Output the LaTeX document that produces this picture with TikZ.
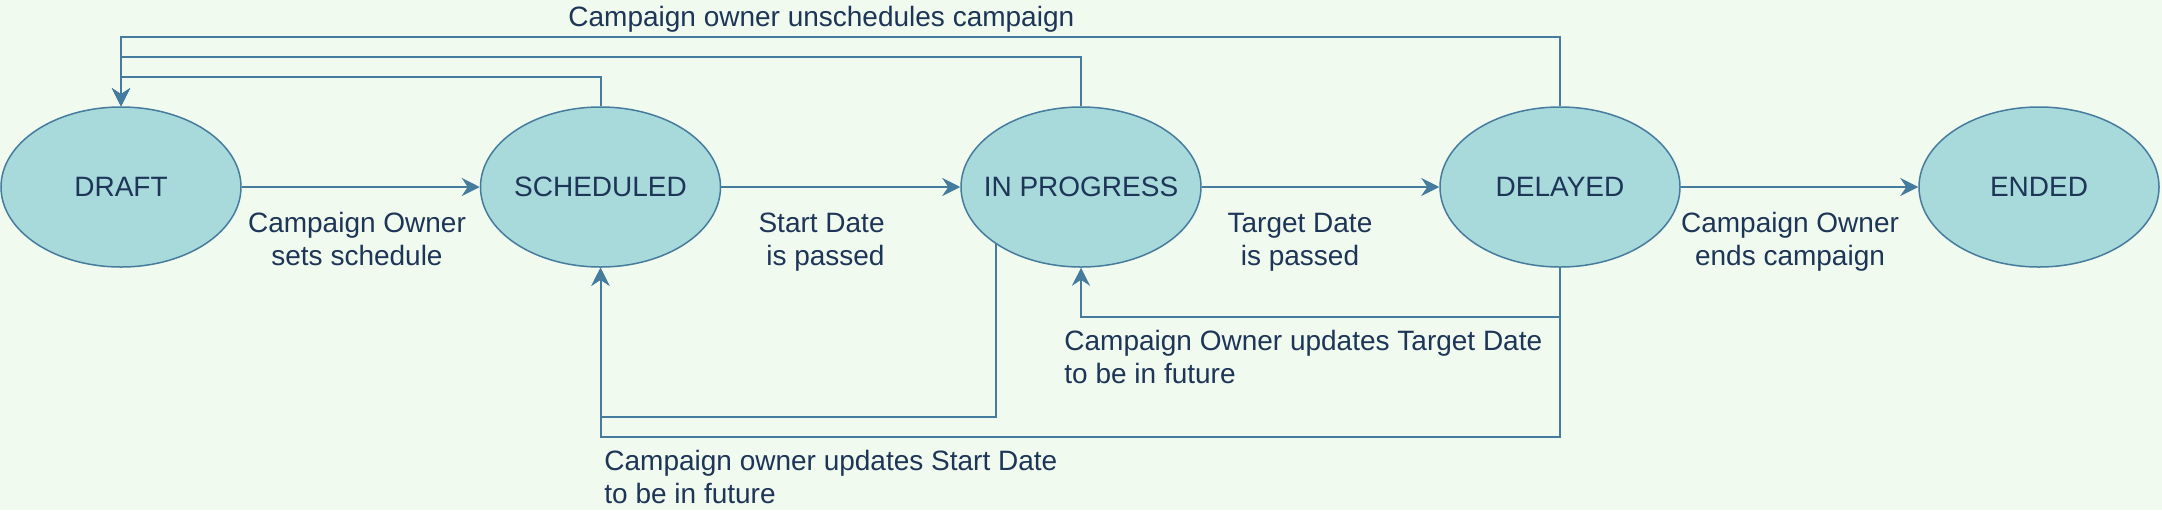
\documentclass[tikz,border=0pt]{standalone}
\usepackage{fontspec}
\setmainfont{Liberation Sans}
\usetikzlibrary{shapes.geometric,arrows.meta}
\definecolor{bgc}{HTML}{F1FAEE}
\definecolor{fillc}{HTML}{A8DADC}
\definecolor{strokec}{HTML}{457B9D}
\definecolor{textc}{HTML}{1D3557}
\newcommand\firstln{\rule{0pt}{12pt}}
\newcommand\stlbl[1]{\makebox[0pt]{#1}}
\tikzset{
  state/.style={ellipse, draw=strokec, fill=fillc, line width=0.75pt, minimum width=120pt, minimum height=80pt, inner sep=0pt, text=textc, font=\fontsize{14}{16.5}\selectfont},
  conn/.style={draw=strokec, line width=1pt},
  arr/.style={conn, -{Stealth[length=9pt,width=9pt,inset=3pt]}},
  lbl/.style={text=textc, font=\fontsize{14}{16.5}\selectfont, inner sep=0pt}
}
\begin{document}
\begin{tikzpicture}[x=0.5pt,y=-0.5pt]
\fill[bgc] (0,0) rectangle (2162,510);
\useasboundingbox (0,0) rectangle (2162,510);

\node[state] (draft) at (121,187) {\stlbl{DRAFT}};
\node[state] (sched) at (600.5,187) {\stlbl{SCHEDULED}};
\node[state] (prog) at (1081,187) {\stlbl{IN PROGRESS}};
\node[state] (delay) at (1560,187) {\stlbl{DELAYED}};
\node[state] (ended) at (2039,187) {\stlbl{ENDED}};

\draw[arr] (draft.east) -- (sched.west);
\draw[arr] (sched.east) -- (prog.west);
\draw[arr] (prog.east) -- (delay.west);
\draw[arr] (delay.east) -- (ended.west);

\draw[arr] (sched.north) -- (sched.north |- 0,77) -| (draft.north);
\draw[arr] (prog.north) -- (prog.north |- 0,57) -| (draft.north);
\draw[arr] (delay.north) -- (delay.north |- 0,37) -| (draft.north);

\draw[arr] (prog.south west) -- (prog.south west |- 0,417) -| (sched.south);
\draw[arr] (delay.south) -- (delay.south |- 0,437) -| (sched.south);
\draw[arr] (delay.south) -- (delay.south |- 0,317) -| (prog.south);

\node[lbl, anchor=base west] (ltop) at (568,26.5) {Campaign owner unschedules campaign};
\node[lbl, anchor=north, align=center] (l1) at (357,208) {\firstln Campaign Owner\\sets schedule};
\node[lbl, anchor=north east, align=right] (l2) at (885,208) {\firstln Start Date\\is passed};
\node[lbl, anchor=north, align=center] (l3) at (1300,208) {\firstln Target Date\\is passed};
\node[lbl, anchor=north, align=center] (l4) at (1790,208) {\firstln Campaign Owner\\ends campaign};
\node[lbl, anchor=north west, align=left] (l5) at (1064,326) {\firstln Campaign Owner updates Target Date\\to be in future};
\node[lbl, anchor=north west, align=left] (l6) at (604,446) {\firstln Campaign owner updates Start Date\\to be in future};
\end{tikzpicture}
\end{document}
